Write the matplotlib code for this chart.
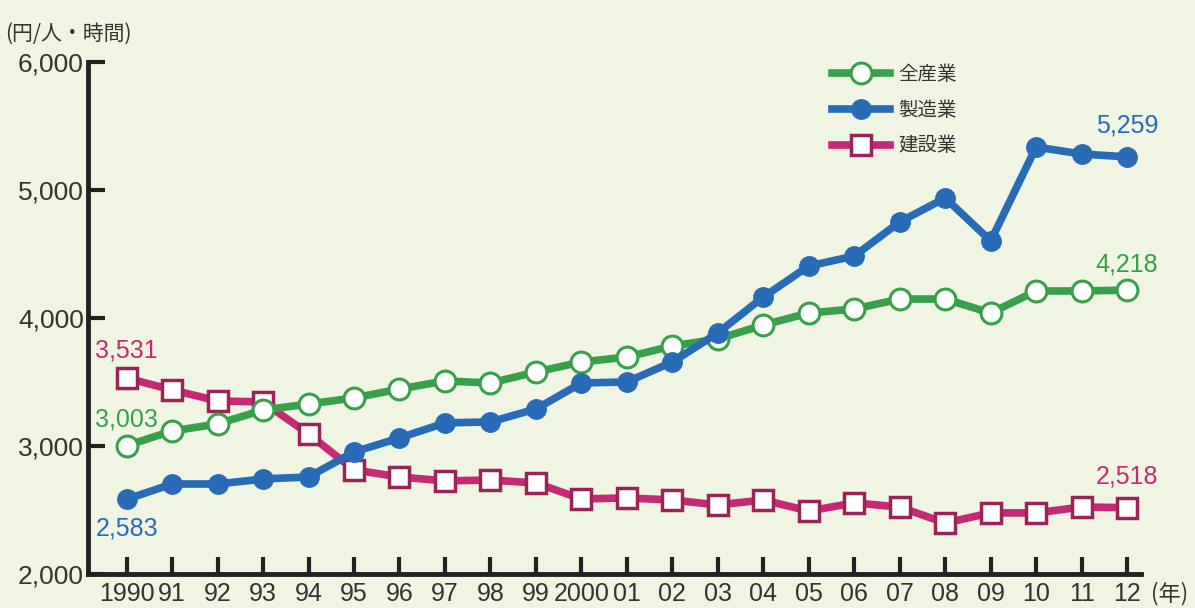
import matplotlib
matplotlib.use("Agg")
from matplotlib import pyplot as plt
from matplotlib.lines import Line2D

plt.rcParams['font.family'] = ['Liberation Sans', 'Noto Sans CJK JP']

years = list(range(1990, 2013))
year_labels = ['1990', '91', '92', '93', '94', '95', '96', '97', '98', '99', '2000',
               '01', '02', '03', '04', '05', '06', '07', '08', '09', '10', '11', '12']

# 全産業
all_ind = [3003, 3117, 3172, 3281, 3328, 3375, 3445, 3508, 3492, 3578, 3656,
           3695, 3781, 3836, 3945, 4039, 4070, 4148, 4148, 4039, 4211, 4211, 4218]
# 製造業
manuf = [2583, 2703, 2703, 2742, 2758, 2953, 3063, 3180, 3188, 3289, 3492,
         3500, 3656, 3883, 4164, 4406, 4484, 4750, 4938, 4602, 5336, 5281, 5259]
# 建設業
constr = [3531, 3438, 3352, 3344, 3094, 2813, 2758, 2727, 2734, 2711, 2586,
          2594, 2578, 2539, 2578, 2492, 2555, 2523, 2398, 2477, 2477, 2523, 2518]

series_names = ['全産業', '製造業', '建設業']

bg = '#eff5e2'
green = '#38a04a'
blue = '#2a6bb8'
pink = '#c62a74'
pink_edge = '#9c2358'

fig = plt.figure(figsize=(11.95, 6.08), dpi=100, facecolor=bg)
ax = fig.add_axes([0.0736, 0.056, 0.881, 0.842], facecolor=bg)

lw = 5.5
ax.plot(years, constr, color=pink, lw=lw, marker='s', ms=15, mfc='white',
        mec=pink_edge, mew=2.5, zorder=3)
ax.plot(years, all_ind, color=green, lw=lw, marker='o', ms=15, mfc='white',
        mec=green, mew=2.2, zorder=4)
ax.plot(years, manuf, color=blue, lw=lw, marker='o', ms=14, mfc=blue,
        mec=blue, zorder=5)

ax.set_xlim(1989.15, 2012.3)
ax.set_ylim(2000, 6000)
ax.set_yticks([2000, 3000, 4000, 5000, 6000])
ax.set_yticklabels(['2,000', '3,000', '4,000', '5,000', '6,000'], fontsize=19)
ax.set_xticks(years)
ax.set_xticklabels(year_labels, fontsize=18)
ax.tick_params(axis='both', direction='in', length=12, width=3, color='#222222',
               labelcolor='#333333')
ax.tick_params(axis='x', pad=6)
ax.tick_params(axis='y', pad=3)
for s in ['top', 'right']:
    ax.spines[s].set_visible(False)
for s in ['left', 'bottom']:
    ax.spines[s].set_linewidth(3.5)
    ax.spines[s].set_color('#222222')

fig.text(0.004, 0.935, '(円/人・時間)', fontsize=15, color='#333333',
         family=['Noto Sans CJK JP'])
fig.text(0.963, 0.012, '(年)', fontsize=16, color='#333333',
         family=['Noto Sans CJK JP'])

# end labels
ax.annotate('3,531', (years[0], constr[0]), xytext=(0, 11), textcoords='offset points',
            ha='center', va='bottom', fontsize=18, color=pink)
ax.annotate('3,003', (years[0], all_ind[0]), xytext=(0, 10), textcoords='offset points',
            ha='center', va='bottom', fontsize=18, color=green)
ax.annotate('2,583', (years[0], manuf[0]), xytext=(0, -12), textcoords='offset points',
            ha='center', va='top', fontsize=18, color=blue)
ax.annotate('5,259', (years[-1], manuf[-1]), xytext=(0, 14), textcoords='offset points',
            ha='center', va='bottom', fontsize=18, color=blue)
ax.annotate('4,218', (years[-1], all_ind[-1]), xytext=(0, 10), textcoords='offset points',
            ha='center', va='bottom', fontsize=18, color=green)
ax.annotate('2,518', (years[-1], constr[-1]), xytext=(0, 14), textcoords='offset points',
            ha='center', va='bottom', fontsize=18, color=pink)

handles = [
    Line2D([], [], color=green, lw=lw, marker='o', ms=15, mfc='white', mec=green, mew=2.2),
    Line2D([], [], color=blue, lw=lw, marker='o', ms=14, mfc=blue, mec=blue),
    Line2D([], [], color=pink, lw=lw, marker='s', ms=15, mfc='white', mec=pink_edge, mew=2.5),
]
leg = ax.legend(handles, series_names, loc='upper left', bbox_to_anchor=(0.69, 1.03),
                frameon=False, handlelength=3.0, handletextpad=0.4, labelspacing=0.75,
                prop={'family': 'Noto Sans CJK JP', 'size': 14})
for t in leg.get_texts():
    t.set_color('#333333')

fig.savefig('out.png', dpi=100, facecolor=bg)
